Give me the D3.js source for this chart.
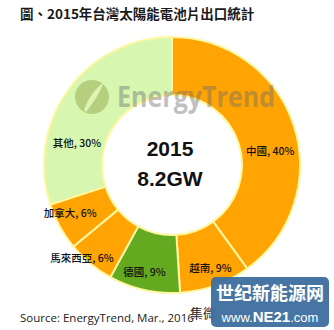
<!DOCTYPE html>
<html>
<head>
<meta charset="utf-8">
<script src="https://cdn.jsdelivr.net/npm/d3@7"></script>
<style>
  body { margin: 0; background: #fff; }
  svg { display: block; }
  text { font-family: "Noto Sans CJK TC", "Noto Sans", sans-serif; }
</style>
</head>
<body>
<svg id="chart" width="334" height="330"></svg>
<script>
// 2015 Taiwan solar cell exports by destination
var countries = ['中國', '越南', '德國', '馬來西亞', '加拿大', '其他']
var shares = [40, 9, 9, 6, 6, 30]
var sliceColors = ['#FFA402', '#FFA402', '#64AA20', '#FFA402', '#FFA402', '#D7F7B0']
// label nudges off the arc centroid (Excel placed them by hand)
var labelNudge = [[4, 17], [5, 10], [-6, 11], [-27, 17], [-15, 1], [-15, 37]]

var cx = 172
var cy = 165
var outerR = 128
var innerR = 70

var svg = d3.select('#chart')

svg.append('text')
    .attr('x', 20)
    .attr('y', 19)
    .style('font-size', '13.5px')
    .style('font-weight', 'bold')
    .style('fill', '#1a1a1a')
    .text('圖、2015年台灣太陽能電池片出口統計')

var pie = d3.pie().sort(null).value(function (d) { return d })
var arc = d3.arc().innerRadius(innerR).outerRadius(outerR)
var labelArc = d3.arc().innerRadius(99).outerRadius(99)

var g = svg.append('g').attr('transform', 'translate(' + cx + ',' + cy + ')')
var arcs = pie(shares)

g.selectAll('path')
    .data(arcs)
    .enter()
    .append('path')
    .attr('d', arc)
    .style('fill', function (d, i) { return sliceColors[i] })
    .style('stroke', '#FFF6A0')
    .style('stroke-width', 2)

// EnergyTrend watermark
var wm = svg.append('g').style('opacity', 0.42)
wm.append('circle')
    .attr('cx', 92).attr('cy', 97).attr('r', 17)
    .style('fill', '#8a9a3a')
wm.append('path')
    .attr('d', 'M84,110 C88,98 96,88 104,82 C100,92 94,102 86,112 Z')
    .style('fill', '#e8f0c0')
wm.append('text')
    .attr('x', 117)
    .attr('y', 107)
    .attr('textLength', 158)
    .attr('lengthAdjust', 'spacingAndGlyphs')
    .style('font-family', '"Open Sans", "Liberation Sans", sans-serif')
    .style('font-size', '29px')
    .style('font-weight', 'bold')
    .style('fill', '#6d6d6d')
    .text('EnergyTrend')

// centre text
svg.append('text')
    .attr('x', cx - 2).attr('y', 156)
    .attr('text-anchor', 'middle')
    .style('font-family', '"Liberation Sans", "DejaVu Sans", sans-serif')
    .style('font-size', '21px')
    .style('font-weight', 'bold')
    .style('fill', '#111')
    .text('2015')
svg.append('text')
    .attr('x', cx - 2).attr('y', 186)
    .attr('text-anchor', 'middle')
    .style('font-family', '"Liberation Sans", "DejaVu Sans", sans-serif')
    .style('font-size', '21px')
    .style('font-weight', 'bold')
    .style('fill', '#111')
    .text('8.2GW')

g.selectAll('text.lbl')
    .data(arcs)
    .enter()
    .append('text')
    .attr('class', 'lbl')
    .attr('transform', function (d, i) {
        var c = labelArc.centroid(d)
        return 'translate(' + (c[0] + labelNudge[i][0]) + ',' + (c[1] + labelNudge[i][1]) + ')'
    })
    .attr('text-anchor', 'middle')
    .attr('dy', '0.35em')
    .style('font-size', '10.5px')
    .style('font-weight', 500)
    .style('fill', '#111')
    .text(function (d, i) { return countries[i] + ', ' + shares[i] + '%' })

// source line
svg.append('text')
    .attr('x', 20).attr('y', 322)
    .style('font-family', '"Open Sans", "Liberation Sans", sans-serif')
    .style('font-size', '11.5px')
    .style('fill', '#222')
    .text('Source: EnergyTrend, Mar., 2016')
svg.append('text')
    .attr('x', 190).attr('y', 318)
    .style('font-size', '13px')
    .style('fill', '#222')
    .text('集微')

// NE21 stamp
var stamp = svg.append('g')
stamp.append('rect')
    .attr('x', 211).attr('y', 277)
    .attr('width', 118).attr('height', 50)
    .attr('rx', 5)
    .style('fill', '#3D6E9E')
    .style('opacity', 0.95)
stamp.append('text')
    .attr('x', 270).attr('y', 300)
    .attr('text-anchor', 'middle')
    .style('font-size', '18px')
    .style('font-weight', 'bold')
    .style('fill', '#fff')
    .text('世纪新能源网')
stamp.append('text')
    .attr('x', 270).attr('y', 322)
    .attr('text-anchor', 'middle')
    .style('font-family', '"Liberation Sans", sans-serif')
    .style('font-size', '13px')
    .style('fill', '#fff')
    .html('www.<tspan font-weight="bold" font-size="15px">NE21</tspan>.com')
</script>
</body>
</html>
